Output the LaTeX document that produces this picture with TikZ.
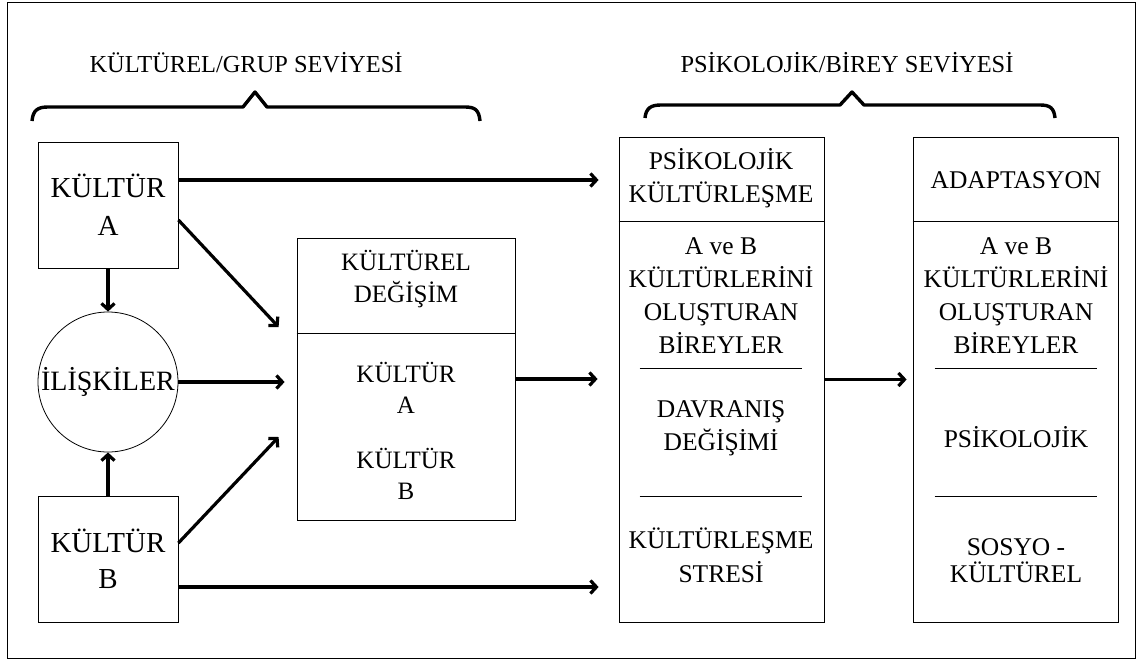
\documentclass[tikz,border=0pt]{standalone}
\usepackage{fontspec}
\setmainfont{Liberation Serif}
\usetikzlibrary{arrows.meta,calc}

\tikzset{
  kutu/.style={draw, line width=0.8pt, inner sep=0pt, align=center},
  yazi/.style={align=center, inner sep=0pt},
  ok/.style={line width=3.2pt, -{Straight Barb[length=6pt,width=13pt]}},
  parantez/.style={line width=3.4pt, line join=round},
  ayrac/.style={line width=0.8pt},
}

\begin{document}
\begin{tikzpicture}[x=1pt,y=-1pt]
  \useasboundingbox (0,0) rectangle (1142,661);
  \draw[line width=0.8pt] (7,2) rectangle (1135,658);

  % seviye basliklari ve parantezler
  \node[yazi,font=\fontsize{24.4}{29}\selectfont] (grup) at (246,63) {KÜLTÜREL/GRUP SEVİYESİ};
  \node[yazi,font=\fontsize{24.4}{29}\selectfont] (birey) at (847,63) {PSİKOLOJİK/BİREY SEVİYESİ};
  \draw[parantez] (32,121) .. controls (33,110) and (38,107) .. (48,107) -- (243,107)
    -- (255,92) -- (267,107) -- (465,107) .. controls (475,107) and (479,110) .. (480,121);
  \draw[parantez] (645,118) .. controls (646,108) and (651,105) .. (661,105) -- (840,105)
    -- (852,92) -- (864,105) -- (1040,105) .. controls (1050,105) and (1054,108) .. (1055,118);

  % kultur/grup seviyesi
  \node[kutu,minimum width=140pt,minimum height=126pt,font=\fontsize{29}{38}\selectfont]
    (kA) at (108,205) {KÜLTÜR\\A};
  \node[kutu,minimum width=140pt,minimum height=126pt,font=\fontsize{29}{36}\selectfont]
    (kB) at (108,559) {KÜLTÜR\\B};
  \node[kutu,circle,minimum size=140pt,font=\fontsize{28}{34}\selectfont]
    (ilis) at (108,382) {İLİŞKİLER};

  \node[kutu,minimum width=218pt,minimum height=282pt] (kd) at (406,379) {};
  \draw[ayrac] ($(kd.north west)+(0,96)$) -- ($(kd.north east)+(0,96)$);
  \node[yazi,font=\fontsize{25}{32}\selectfont] (kdBaslik) at (406,279) {KÜLTÜREL\\DEĞİŞİM};
  \node[yazi,font=\fontsize{25}{31}\selectfont] (kdA) at (406,387.5) {KÜLTÜR\\A};
  \node[yazi,font=\fontsize{25}{31}\selectfont] (kdB) at (406,473.5) {KÜLTÜR\\B};

  % psikolojik/birey seviyesi
  \node[kutu,minimum width=205pt,minimum height=485pt] (pk) at (721.5,379.5) {};
  \draw[ayrac] ($(pk.north west)+(0,85)$) -- ($(pk.north east)+(0,85)$);
  \draw[ayrac] ($(pk.north west)+(21,232)$) -- ($(pk.north east)+(-22,232)$);
  \draw[ayrac] ($(pk.north west)+(21,360)$) -- ($(pk.north east)+(-22,360)$);
  \node[yazi,font=\fontsize{25.5}{33}\selectfont] (pkBaslik) at (721,178.5) {PSİKOLOJİK\\KÜLTÜRLEŞME};
  \node[yazi,font=\fontsize{25.5}{33}\selectfont] (pkBirey) at (721,296) {A ve B\\KÜLTÜRLERİNİ\\OLUŞTURAN\\BİREYLER};
  \node[yazi,font=\fontsize{25.5}{33}\selectfont] (pkDavranis) at (721,428.5) {DAVRANIŞ\\DEĞİŞİMİ};
  \node[yazi,font=\fontsize{25.5}{34}\selectfont] (pkStres) at (721,555.5) {KÜLTÜRLEŞME\\STRESİ};

  \node[kutu,minimum width=205pt,minimum height=485pt] (ad) at (1015.5,379.5) {};
  \draw[ayrac] ($(ad.north west)+(0,85)$) -- ($(ad.north east)+(0,85)$);
  \draw[ayrac] ($(ad.north west)+(22,232)$) -- ($(ad.north east)+(-21,232)$);
  \draw[ayrac] ($(ad.north west)+(22,360)$) -- ($(ad.north east)+(-21,360)$);
  \node[yazi,font=\fontsize{25.5}{33}\selectfont] (adBaslik) at (1016,180) {ADAPTASYON};
  \node[yazi,font=\fontsize{25.5}{33}\selectfont] (adBirey) at (1016,296) {A ve B\\KÜLTÜRLERİNİ\\OLUŞTURAN\\BİREYLER};
  \node[yazi,font=\fontsize{25.5}{33}\selectfont] (adPsi) at (1016,437) {PSİKOLOJİK};
  \node[yazi,font=\fontsize{25.5}{27}\selectfont] (adSosyo) at (1016,561) {SOSYO -\\KÜLTÜREL};

  % oklar
  \coordinate (aUst) at ([yshift=25pt]kA.east);
  \coordinate (bAlt) at ([yshift=-28pt]kB.east);
  \coordinate (aCapraz) at ([yshift=-15pt]kA.east);
  \coordinate (bCapraz) at ([yshift=16pt]kB.east);
  \coordinate (kdUst) at ([xshift=-18pt,yshift=52pt]kd.west);
  \coordinate (kdAlt) at ([xshift=-18pt,yshift=-58pt]kd.west);
  \path[ok]
    (kA.south) edge (ilis.north)
    (kB.north) edge (ilis.south)
    (aCapraz) edge (kdUst)
    (bCapraz) edge (kdAlt)
    (ilis.east) edge[shorten >=12pt] (ilis.east -| kd.west)
    (aUst) edge[shorten >=20pt] (aUst -| pk.west)
    (bAlt) edge[shorten >=20pt] (bAlt -| pk.west)
    (kd.east) edge[shorten >=21pt] (kd.east -| pk.west)
    (pk.east) edge[shorten >=6pt] (ad.west);
\end{tikzpicture}
\end{document}
